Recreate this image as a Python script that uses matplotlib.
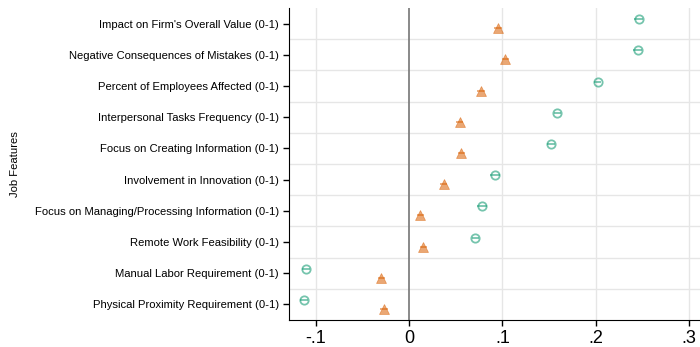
import numpy as np
import matplotlib
matplotlib.use("Agg")
import matplotlib.pyplot as plt

plt.rcParams['font.family'] = ['Liberation Sans', 'DejaVu Sans']

features = [
    "Impact on Firm's Overall Value (0-1)",
    "Negative Consequences of Mistakes (0-1)",
    "Percent of Employees Affected (0-1)",
    "Interpersonal Tasks Frequency (0-1)",
    "Focus on Creating Information (0-1)",
    "Involvement in Innovation (0-1)",
    "Focus on Managing/Processing Information (0-1)",
    "Remote Work Feasibility (0-1)",
    "Manual Labor Requirement (0-1)",
    "Physical Proximity Requirement (0-1)",
]
green_vals = [0.246, 0.245, 0.202, 0.159, 0.152, 0.092, 0.078, 0.071, -0.111, -0.113]
green_ci = [0.005, 0.005, 0.004, 0.004, 0.004, 0.005, 0.005, 0.004, 0.004, 0.004]
orange_vals = [0.095, 0.103, 0.077, 0.054, 0.056, 0.037, 0.012, 0.015, -0.030, -0.027]
orange_ci = [0.004, 0.004, 0.004, 0.004, 0.004, 0.004, 0.004, 0.004, 0.004, 0.004]
xticks = [-0.1, 0, 0.1, 0.2, 0.3]
xticklabels = ["-.1", "0", ".1", ".2", ".3"]

green = "#1b9e77"
orange = "#d95f02"

fig = plt.figure(figsize=(7, 3.47), dpi=100)
ax = fig.add_axes([0.413, 0.078, 0.587, 0.899])

y = np.arange(len(features))

# vertical and horizontal grid
for xt in xticks:
    if xt != 0:
        ax.axvline(xt, color="#e6e6e6", lw=1.0, zorder=0)
for yy in y[:-1] + 0.5:
    ax.axhline(yy, color="#e6e6e6", lw=1.0, zorder=0)
ax.axvline(0, color="#808080", lw=1.3, zorder=1)

ax.errorbar(green_vals, y - 0.14, xerr=green_ci, fmt="o", ms=6,
            mfc="none", mec=green, mew=1.3, alpha=0.6,
            ecolor=green, elinewidth=1.3, capsize=0, zorder=3)
ax.errorbar(orange_vals, y + 0.15, xerr=orange_ci, fmt="^", ms=6.5,
            mfc=orange, mec=orange, mew=0.5, alpha=0.55,
            ecolor=orange, elinewidth=1.3, capsize=0, zorder=3)

ax.set_xlim(-0.129, 0.312)
ax.set_ylim(len(features) - 0.5, -0.5)
ax.set_yticks(y)
ax.set_yticklabels(features, fontsize=8.1)
ax.set_xticks(xticks)
ax.set_xticklabels(xticklabels, fontsize=13)
ax.set_ylabel("Job Features", fontsize=8.1)
ax.yaxis.set_label_coords(-0.655, 0.5)

for s in ["top", "right"]:
    ax.spines[s].set_visible(False)
ax.spines["left"].set_color("black")
ax.spines["bottom"].set_color("black")
ax.tick_params(axis="both", direction="out", length=4, width=1, color="black")

fig.savefig("out.png", dpi=100)
